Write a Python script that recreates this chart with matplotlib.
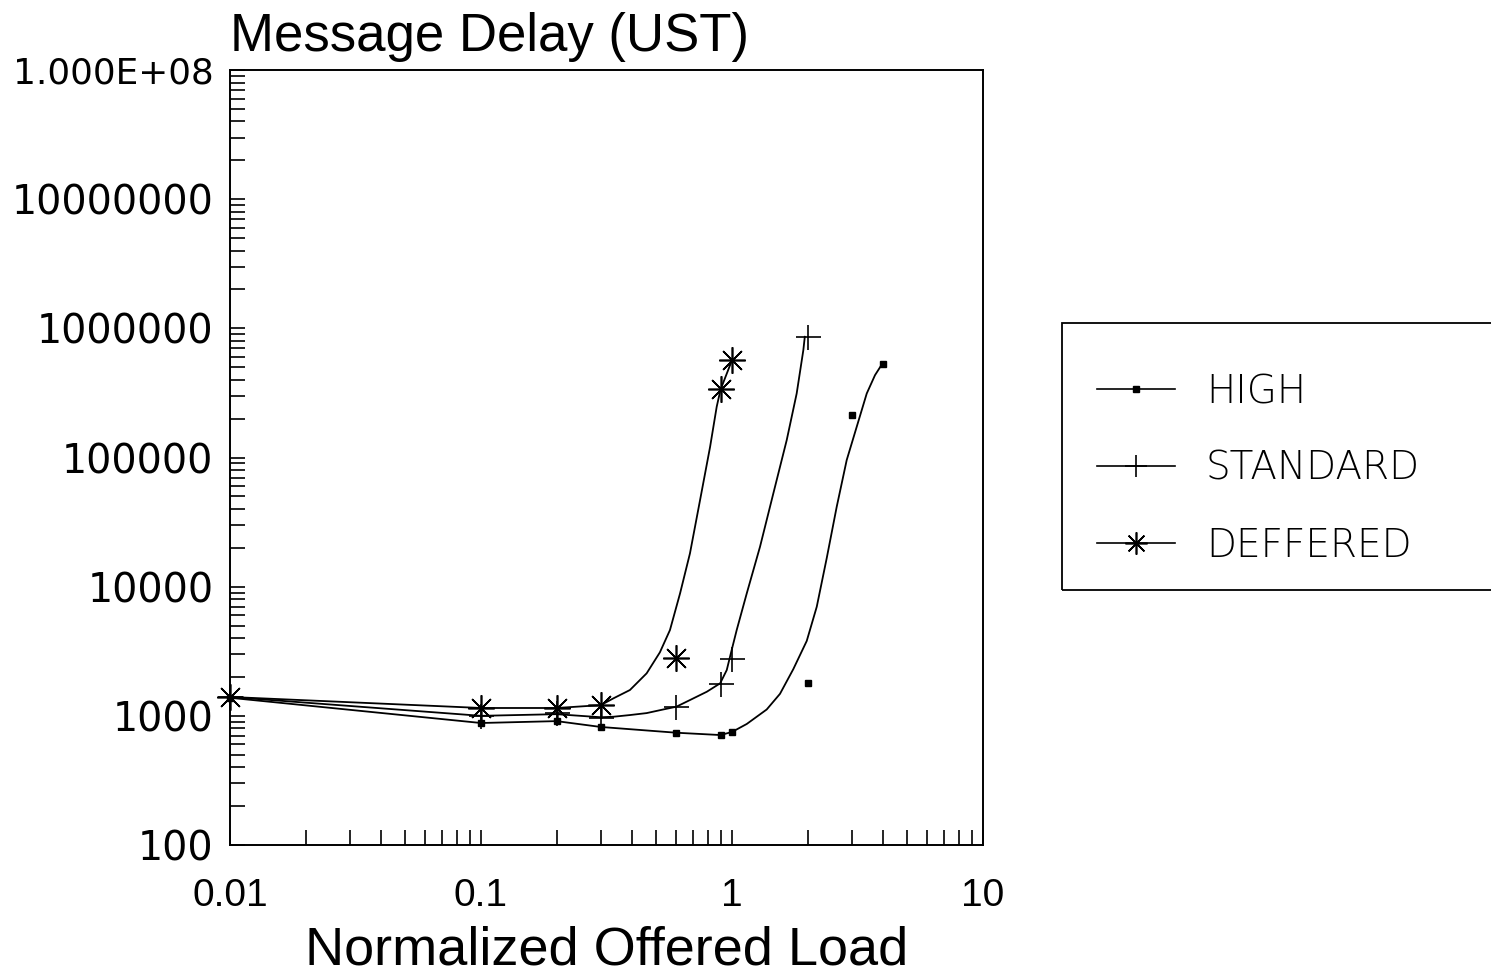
import numpy as np
import matplotlib
matplotlib.use("Agg")
import matplotlib.pyplot as plt
from matplotlib.ticker import FixedLocator, FixedFormatter, LogLocator, NullFormatter
from matplotlib.lines import Line2D
from matplotlib.patches import Rectangle

# ---- measured points (markers) ----
high_x = [0.01, 0.1, 0.2, 0.3, 0.6, 0.9, 1.0, 2.0, 3.0, 4.0]
high_y = [1380, 880, 910, 820, 740, 710, 750, 1800, 213000, 530000]
std_x = [0.01, 0.1, 0.2, 0.3, 0.6, 0.9, 1.0, 2.0]
std_y = [1400, 1000, 1050, 960, 1170, 1760, 2750, 850000]
def_x = [0.01, 0.1, 0.2, 0.3, 0.6, 0.9, 1.0]
def_y = [1400, 1150, 1150, 1210, 2800, 338000, 567000]

# ---- fitted curves as drawn in the figure ----
high_curve_x = [0.01, 0.1, 0.2, 0.3, 0.6, 0.9, 1.0, 1.145, 1.375, 1.553, 1.755, 1.985,
                2.176, 2.384, 2.613, 2.864, 3.14, 3.442, 3.713, 3.96]
high_curve_y = [1380, 880, 910, 820, 740, 710, 750, 865, 1120, 1480, 2300, 3800,
                6990, 16600, 41500, 95500, 173000, 313000, 434000, 528000]
std_curve_x = [0.01, 0.1, 0.2, 0.3, 0.337, 0.392, 0.457, 0.532, 0.6, 0.68, 0.794, 0.897,
               0.953, 0.997, 1.044, 1.145, 1.293, 1.461, 1.652, 1.81, 1.924, 1.95]
std_curve_y = [1400, 1000, 1030, 975, 984, 1014, 1050, 1120, 1176, 1325, 1537, 1785,
               2262, 3230, 4614, 8873, 20370, 52700, 136400, 313000, 678000, 860000]
def_curve_x = [0.01, 0.1, 0.2, 0.3, 0.337, 0.392, 0.457, 0.516, 0.566, 0.621, 0.68,
               0.746, 0.818, 0.869, 0.9, 1.0]
def_curve_y = [1400, 1150, 1150, 1210, 1366, 1584, 2133, 3100, 4614, 8873, 18100,
               46800, 121000, 247000, 335000, 567000]

series_names = ["HIGH", "STANDARD", "DEFFERED"]
x_tick_vals = [0.01, 0.1, 1, 10]
x_tick_labels = ["0.01", "0.1", "1", "10"]
y_tick_vals = [1e2, 1e3, 1e4, 1e5, 1e6, 1e7, 1e8]
y_tick_labels = ["100", "1000", "10000", "100000", "1000000", "10000000", "1.000E+08"]

SANS = ["Liberation Sans", "DejaVu Sans"]
WIDE = ["DejaVu Sans"]

fig = plt.figure(figsize=(14.91, 9.76), dpi=100)
ax = fig.add_axes([230 / 1491, 1 - 845 / 976, (983 - 230) / 1491, (845 - 70) / 976])

ax.set_xscale("log")
ax.set_yscale("log")
ax.set_xlim(0.01, 10)
ax.set_ylim(100, 1e8)

lw = 1.3
ax.plot(high_curve_x, high_curve_y, color="black", lw=lw)
ax.plot(std_curve_x, std_curve_y, color="black", lw=lw)
ax.plot(def_curve_x, def_curve_y, color="black", lw=lw)

asterisk = (8, 2, 0)
ax.plot(high_x, high_y, ls="none", marker="s", ms=4.5, color="black", clip_on=False)
ax.plot(std_x, std_y, ls="none", marker="+", ms=18, mew=1.2, color="black", clip_on=False)
ax.plot(def_x, def_y, ls="none", marker=asterisk, ms=19, mew=1.2, color="black", clip_on=False)

for s in ["left", "right", "top", "bottom"]:
    ax.spines[s].set_linewidth(1.4)

ax.xaxis.set_major_locator(FixedLocator(x_tick_vals))
ax.xaxis.set_major_formatter(FixedFormatter(x_tick_labels))
ax.xaxis.set_minor_locator(LogLocator(base=10, subs=np.arange(2, 10)))
ax.xaxis.set_minor_formatter(NullFormatter())
ax.yaxis.set_major_locator(FixedLocator(y_tick_vals))
ax.yaxis.set_major_formatter(FixedFormatter(y_tick_labels))
ax.yaxis.set_minor_locator(LogLocator(base=10, subs=np.arange(2, 10), numticks=20))
ax.yaxis.set_minor_formatter(NullFormatter())

ax.tick_params(axis="both", which="both", direction="in", length=11, width=1.2,
               top=False, right=False)
ax.tick_params(axis="x", which="major", pad=24)
ax.tick_params(axis="y", which="major", pad=12)
for lab in ax.get_yticklabels():
    lab.set_fontfamily(WIDE)
    lab.set_fontsize(28.5)
    if lab.get_text() == "1.000E+08":
        lab.set_fontsize(25.8)
for lab in ax.get_xticklabels():
    lab.set_fontfamily(SANS)
    lab.set_fontsize(28)

ax.set_title("Message Delay (UST)", loc="left", fontsize=38, family=SANS, pad=14)
ax.set_xlabel("Normalized Offered Load", fontsize=39, family=SANS, labelpad=8)

# legend box (extends past the right edge of the figure)
fig.patches.append(Rectangle((1062 / 1491, 1 - 590 / 976), (1491 - 1062 + 20) / 1491,
                             (590 - 323) / 976, transform=fig.transFigure,
                             fill=False, lw=1.3, color="black"))
handles = [
    Line2D([], [], color="black", lw=1.2, marker="s", ms=4, ls="-"),
    Line2D([], [], color="black", lw=1.2, marker="+", ms=16, mew=1.2, ls="-"),
    Line2D([], [], color="black", lw=1.2, marker=asterisk, ms=16, mew=1.2, ls="-"),
]
leg = fig.legend(handles, series_names, loc="upper left",
                 bbox_to_anchor=(1097 / 1491, 1 - 373 / 976), frameon=False,
                 prop={"family": "DejaVu Sans", "size": 28, "weight": "light"},
                 handlelength=2.0, handletextpad=0.8, labelspacing=1.0,
                 borderpad=0, borderaxespad=0)

fig.savefig("out.png", dpi=100)
